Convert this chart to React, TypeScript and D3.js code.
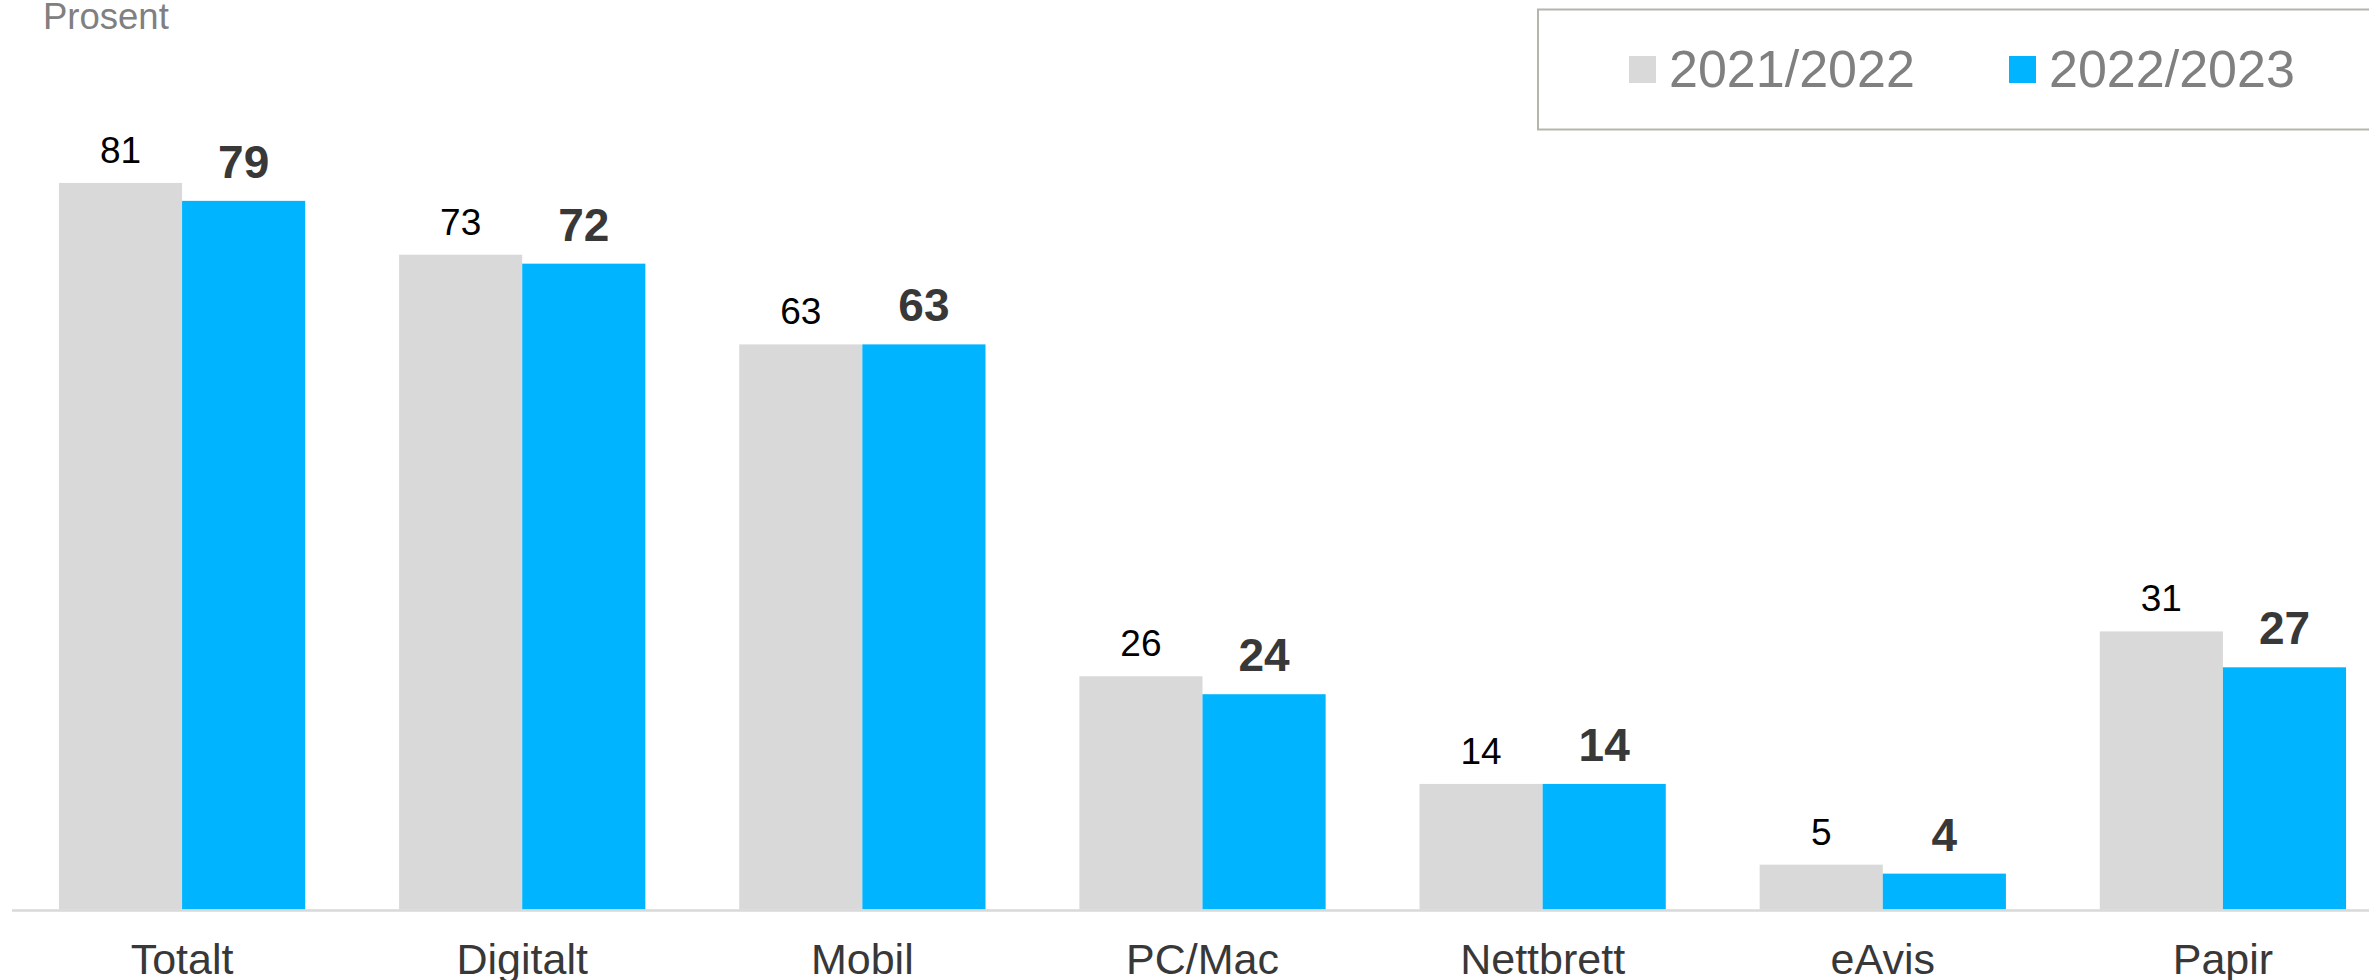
import React from "react";
import * as d3 from "d3";

const categories = ["Totalt", "Digitalt", "Mobil", "PC/Mac", "Nettbrett", "eAvis", "Papir"];
const seriesNames = ["2021/2022", "2022/2023"];
const values2122 = [81, 73, 63, 26, 14, 5, 31];
const values2223 = [79, 72, 63, 24, 14, 4, 27];
const seriesColors = ["#d9d9d9", "#00b4ff"];
const yLabel = "Prosent";

const W = 2369;
const H = 980;
const FONT = "'Liberation Sans', Arial, sans-serif";

export default function App() {
  const baseline = 909.5;
  const y = d3.scaleLinear().domain([0, 100]).range([baseline, baseline - 897]);
  const x0 = d3
    .scaleBand<string>()
    .domain(categories)
    .range([12, 2393])
    .paddingInner(0.276)
    .paddingOuter(0.138);
  const x1 = d3
    .scaleBand<string>()
    .domain(seriesNames)
    .range([0, x0.bandwidth()])
    .padding(0);
  const allValues = [values2122, values2223];

  return (
    <svg
      width={W}
      height={H}
      style={{ position: "absolute", left: 0, top: 0, background: "#fff" }}
      fontFamily={FONT}
    >
      <rect x={0} y={0} width={W} height={H} fill="#fff" />
      <text x={43} y={29} fontSize={36.5} fill="#808080">
        {yLabel}
      </text>

      {/* legend */}
      <rect x={1538} y={9.5} width={840} height={120} fill="#fff" stroke="#b3b6ab" strokeWidth={2} />
      {seriesNames.map((s, i) => {
        const lx = [1629, 2009][i];
        return (
          <g key={s}>
            <rect x={lx} y={56} width={27} height={27} fill={seriesColors[i]} />
            <text x={lx + 40} y={87} fontSize={52} fill="#808080">
              {s}
            </text>
          </g>
        );
      })}

      {categories.map((c, ci) => (
        <g key={c} transform={`translate(${x0(c)},0)`}>
          {seriesNames.map((s, si) => {
            const v = allValues[si][ci];
            const bx = x1(s)!;
            const top = y(v);
            const bold = si === 1;
            return (
              <g key={s}>
                <rect
                  x={bx}
                  y={top}
                  width={x1.bandwidth()}
                  height={baseline - top}
                  fill={seriesColors[si]}
                />
                <text
                  x={bx + x1.bandwidth() / 2}
                  y={top - (bold ? 23 : 20)}
                  textAnchor="middle"
                  fontSize={bold ? 46 : 37}
                  fontWeight={bold ? "bold" : "normal"}
                  fill={bold ? "#383838" : "#000"}
                >
                  {v}
                </text>
              </g>
            );
          })}
          <text
            x={x0.bandwidth() / 2}
            y={974}
            textAnchor="middle"
            fontSize={43}
            fill="#383838"
          >
            {c}
          </text>
        </g>
      ))}

      <line x1={12} x2={W} y1={baseline + 1} y2={baseline + 1} stroke="#d9d9d9" strokeWidth={2.5} />
    </svg>
  );
}
